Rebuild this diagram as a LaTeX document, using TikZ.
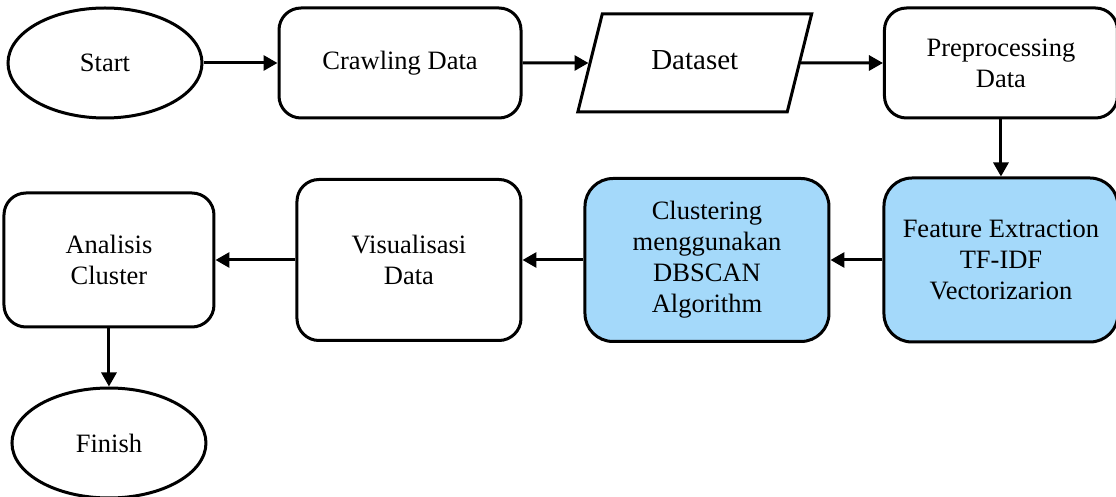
\documentclass[tikz,border=0pt]{standalone}
\usepackage{fontspec}
\setmainfont{Liberation Serif}
\usetikzlibrary{arrows.meta,positioning,shapes.geometric}
\definecolor{boxblue}{RGB}{164,217,250}
\tikzset{
  terminal/.style={
    ellipse,
    draw,
    line width=1.5pt,
    minimum width=97pt,
    minimum height=55pt,
    inner sep=0pt,
    font=\fontsize{13.25}{15.5}\selectfont
  },
  process/.style={
    draw,
    rectangle,
    rounded corners=11pt,
    line width=1.5pt,
    align=center,
    inner sep=0pt,
    font=\fontsize{13.25}{15.5}\selectfont
  },
  iodata/.style={
    trapezium,
    trapezium left angle=76,
    trapezium right angle=104,
    draw,
    line width=1.5pt,
    text height=10pt,
    text depth=3pt,
    inner xsep=24.5pt,
    inner ysep=18pt,
    font=\fontsize{14.5}{17}\selectfont
  },
  highlight/.style={fill=boxblue,rounded corners=14pt},
  flow/.style={-{Triangle[length=7pt,width=7.5pt]},line width=1.5pt}
}

\begin{document}
\begin{tikzpicture}
\useasboundingbox (0,0) rectangle (558pt,-248.5pt);

\node[terminal] (start) at (52.5pt,-31.5pt) {Start};
\node[process, right=37pt of start, minimum width=121pt, minimum height=55pt] (crawl) {Crawling Data};
\node[iodata, right=33pt of crawl] (dataset) {Dataset};
\node[process, right=41pt of dataset, minimum width=116.5pt, minimum height=55pt] (prep) {Preprocessing\\Data};

\node[process, highlight, below=28.5pt of prep, minimum width=117pt, minimum height=82pt] (feature) {Feature Extraction\\TF-IDF\\Vectorizarion};
\node[process, highlight, left=26pt of feature, minimum width=122pt, minimum height=81.5pt] (cluster) {Clustering\\menggunakan\\DBSCAN\\Algorithm};
\node[process, left=30.5pt of cluster, minimum width=112pt, minimum height=80.5pt] (visual) {Visualisasi\\Data};
\node[process, left=40pt of visual, minimum width=105pt, minimum height=67pt] (analisis) {Analisis\\Cluster};
\node[terminal, below=29pt of analisis] (finish) {Finish};

\draw[flow] (start) -- (crawl);
\draw[flow] (crawl) -- (dataset);
\draw[flow] (dataset) -- (prep);
\draw[flow] (prep) -- (feature);
\draw[flow] (feature) -- (cluster);
\draw[flow] (cluster) -- (visual);
\draw[flow] (visual) -- (analisis);
\draw[flow] (analisis) -- (finish);
\end{tikzpicture}
\end{document}
